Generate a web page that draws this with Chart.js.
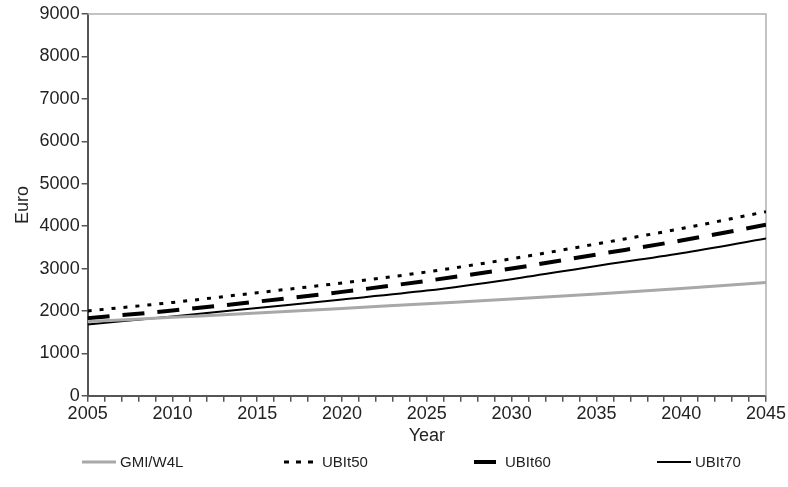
<!DOCTYPE html>
<html>
<head>
<meta charset="utf-8">
<script src="https://cdn.jsdelivr.net/npm/chart.js@4"></script>
<style>
  html, body { margin: 0; padding: 0; background: #fff; }
  #wrap { width: 788px; height: 487px; }
</style>
</head>
<body>
<div id="wrap"><canvas id="chart" width="788" height="487"></canvas></div>
<script>
// --- data ---
const years = [2005, 2010, 2015, 2020, 2025, 2030, 2035, 2040, 2045];
const gmiW4L = [1750, 1850, 1950, 2060, 2170, 2280, 2400, 2530, 2670];
const ubit50 = [2000, 2200, 2430, 2660, 2920, 3230, 3580, 3940, 4340];
const ubit60 = [1830, 2010, 2220, 2450, 2710, 3000, 3330, 3660, 4030];
const ubit70 = [1680, 1870, 2070, 2270, 2480, 2750, 3060, 3360, 3710];
const yTicks = [0, 1000, 2000, 3000, 4000, 5000, 6000, 7000, 8000, 9000];

const FONT = '"Liberation Sans", Arial, sans-serif';
const toPts = (arr) => years.map((y, i) => ({ x: y, y: arr[i] }));

// frame (top/right in light grey) + custom legend spaced like the original
const framePlugin = {
  id: 'frame',
  beforeDatasetsDraw(chart) {
    const { ctx, chartArea: a } = chart;
    ctx.save();
    ctx.strokeStyle = '#b0b0b0';
    ctx.lineWidth = 1.5;
    ctx.beginPath();
    ctx.moveTo(a.left, a.top);
    ctx.lineTo(a.right, a.top);
    ctx.lineTo(a.right, a.bottom);
    ctx.stroke();
    ctx.restore();
  }
};

const legendXs = [82, 284, 474, 657];
const legendLens = [34, 34, 22, 34];
const legendPlugin = {
  id: 'wideLegend',
  afterDraw(chart) {
    const ctx = chart.ctx;
    const y = 462;
    ctx.save();
    chart.data.datasets.forEach((ds, i) => {
      const x0 = legendXs[i];
      ctx.strokeStyle = ds.borderColor;
      ctx.lineWidth = ds.borderWidth;
      ctx.setLineDash(ds.legendDash || []);
      ctx.beginPath();
      ctx.moveTo(x0, y);
      ctx.lineTo(x0 + legendLens[i], y);
      ctx.stroke();
      ctx.setLineDash([]);
      ctx.fillStyle = '#222';
      ctx.font = '15px ' + FONT;
      ctx.textBaseline = 'middle';
      ctx.fillText(ds.label, x0 + legendLens[i] + (i === 2 ? 9 : 4), y + 1);
    });
    ctx.restore();
  }
};

new Chart(document.getElementById('chart'), {
  type: 'line',
  data: {
    datasets: [
      { label: 'GMI/W4L', data: toPts(gmiW4L), borderColor: '#a8a8a8', borderWidth: 3, legendDash: [] },
      { label: 'UBIt50', data: toPts(ubit50), borderColor: '#000', borderWidth: 3, borderDash: [4, 8], legendDash: [5, 7] },
      { label: 'UBIt60', data: toPts(ubit60), borderColor: '#000', borderWidth: 4, borderDash: [22, 13], legendDash: [] },
      { label: 'UBIt70', data: toPts(ubit70), borderColor: '#000', borderWidth: 2, legendDash: [] }
    ]
  },
  options: {
    responsive: false,
    animation: false,
    layout: { padding: { left: 8, right: 22, top: 14, bottom: 36 } },
    elements: { point: { radius: 0 }, line: { cubicInterpolationMode: 'monotone', fill: false } },
    plugins: { legend: { display: false }, tooltip: { enabled: false } },
    scales: {
      x: {
        type: 'linear', min: 2005, max: 2045,
        afterBuildTicks: (s) => { s.ticks = []; for (let v = 2005; v <= 2045; v++) s.ticks.push({ value: v }); },
        ticks: {
          autoSkip: false, maxRotation: 0, color: '#222', font: { family: FONT, size: 18 }, padding: 1,
          callback: (v) => (v % 5 === 0 ? String(v) : '')
        },
        grid: { drawOnChartArea: false, tickLength: 6, color: '#555', lineWidth: 1.5 },
        border: { color: '#555', width: 2 },
        title: { display: true, text: 'Year', color: '#222', font: { family: FONT, size: 18 }, padding: { top: 0 } }
      },
      y: {
        min: 0, max: 9000,
        afterBuildTicks: (s) => { s.ticks = yTicks.map(v => ({ value: v })); },
        ticks: { color: '#222', font: { family: FONT, size: 18 }, padding: 2, callback: (v) => String(v) },
        grid: { drawOnChartArea: false, tickLength: 6, color: '#555', lineWidth: 1.5 },
        border: { color: '#555', width: 2 },
        title: { display: true, text: 'Euro', color: '#222', font: { family: FONT, size: 18 }, padding: { bottom: 4 } }
      }
    }
  },
  plugins: [framePlugin, legendPlugin]
});
</script>
</body>
</html>
